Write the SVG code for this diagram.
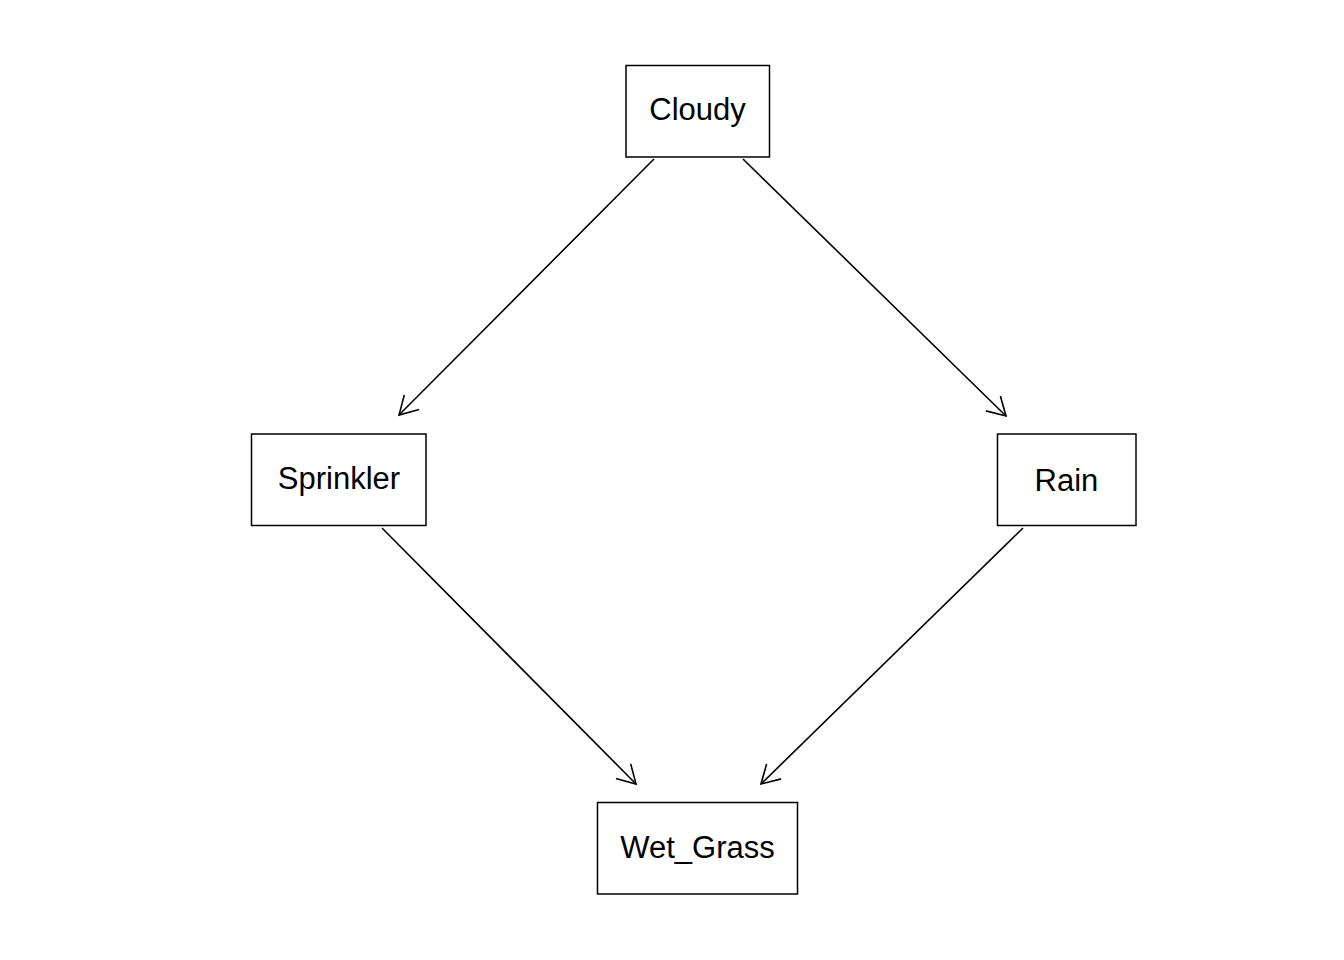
<svg xmlns="http://www.w3.org/2000/svg" width="1344" height="960" viewBox="0 0 1344 960">
<style>
.box{fill:#fff;stroke:#000;stroke-width:1.5}
.lbl{font-family:"Liberation Sans",Arial,sans-serif;font-size:31px;fill:#000;text-anchor:middle}
.edge{stroke:#000;stroke-width:1.6;fill:none;marker-end:url(#ah)}
</style>
<defs>
<marker id="ah" markerUnits="userSpaceOnUse" markerWidth="30" markerHeight="30" viewBox="-25 -15 30 30" refX="0" refY="0" orient="auto">
<path d="M-18,-10.4 L0,0 L-18,10.4" fill="none" stroke="#000" stroke-width="1.6"/>
</marker>
</defs>
<rect width="1344" height="960" fill="#fff"/>
<g id="connectors">
<line class="edge" x1="654" y1="159" x2="399" y2="415"/>
<line class="edge" x1="743" y1="159" x2="1006" y2="416"/>
<line class="edge" x1="382" y1="528" x2="636" y2="784"/>
<line class="edge" x1="1023" y1="528" x2="761" y2="784"/>
</g>
<g id="Cloudy"><rect class="box" x="626" y="65.5" width="143.5" height="91.5"/><text class="lbl" x="697.5" y="120">Cloudy</text></g>
<g id="Sprinkler"><rect class="box" x="251.5" y="434" width="174.5" height="91.5"/><text class="lbl" x="339" y="489">Sprinkler</text></g>
<g id="Rain"><rect class="box" x="997.5" y="434" width="138.5" height="91.5"/><text class="lbl" x="1066.5" y="491">Rain</text></g>
<g id="Wet_Grass"><rect class="box" x="597.5" y="802.5" width="200" height="91.5"/><text class="lbl" x="697.5" y="858">Wet_Grass</text></g>
</svg>
